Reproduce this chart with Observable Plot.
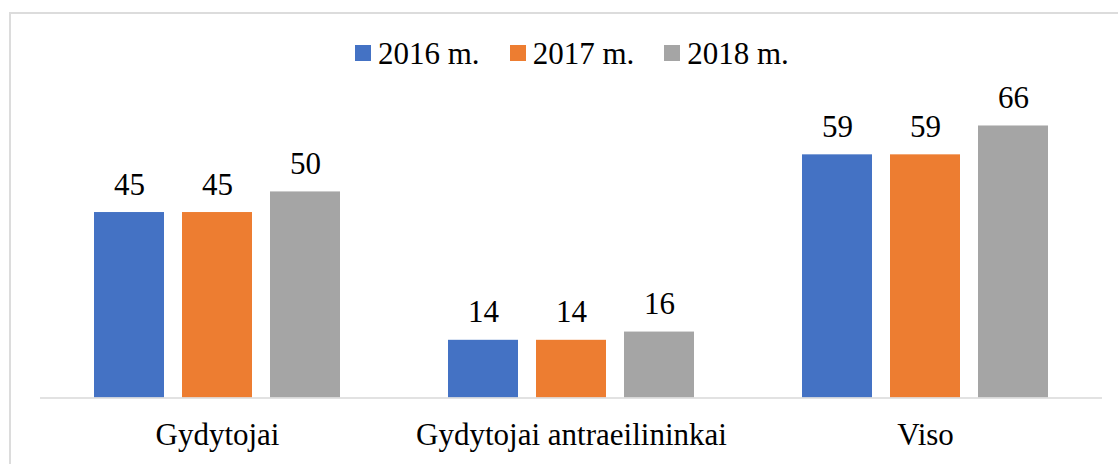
<!DOCTYPE html>
<html>
<head>
<meta charset="utf-8">
<script src="https://cdn.jsdelivr.net/npm/d3@7"></script>
<script src="https://cdn.jsdelivr.net/npm/@observablehq/plot@0.6"></script>
<style>
  html, body { margin: 0; padding: 0; background: #fff; }
  #wrap { position: relative; width: 1118px; height: 464px; overflow: hidden; font-family: "Liberation Serif", "Times New Roman", serif; }
  #frame { position: absolute; left: 9px; top: 12px; width: 1130px; height: 470px; border: 2px solid #dcdcdc; box-sizing: border-box; }
  #legend { position: absolute; left: 355px; top: 37.5px; height: 31px; display: flex; align-items: center; font-size: 31px; line-height: 1; color: #000; white-space: nowrap; }
  .item { display: inline-flex; align-items: center; margin-right: 30px; }
  .sw { width: 16px; height: 16px; margin-right: 7px; display: inline-block; }
  #chart { position: absolute; left: 0; top: 80px; }
  #chart svg, #chart svg text { font-family: "Liberation Serif", "Times New Roman", serif !important; }
</style>
</head>
<body>
<div id="wrap">
  <div id="frame"></div>
  <div id="legend"></div>
  <div id="chart"></div>
</div>
<script>
const categories = ["Gydytojai", "Gydytojai antraeilininkai", "Viso"];
const years = ["2016 m.", "2017 m.", "2018 m."];
const values2016 = [45, 14, 59];
const values2017 = [45, 14, 59];
const values2018 = [50, 16, 66];
const colors = ["#4472C4", "#ED7D31", "#A5A5A5"];

const series = [values2016, values2017, values2018];
const rows = [];
categories.forEach((c, i) => {
  years.forEach((y, j) => {
    rows.push({category: c, year: y, value: series[j][i]});
  });
});

// legend
const legend = document.getElementById("legend");
years.forEach((y, j) => {
  const item = document.createElement("span");
  item.className = "item";
  if (j === years.length - 1) item.style.marginRight = "0";
  const sw = document.createElement("span");
  sw.className = "sw";
  sw.style.background = colors[j];
  const t = document.createElement("span");
  t.textContent = y;
  item.appendChild(sw);
  item.appendChild(t);
  legend.appendChild(item);
});

const chart = Plot.plot({
  width: 1118,
  height: 384,
  marginLeft: 39,
  marginRight: 16,
  marginTop: 29,
  marginBottom: 66.5,
  style: { fontFamily: "'Liberation Serif', 'Times New Roman', serif", fontSize: "31px", color: "#000", background: "transparent", overflow: "visible" },
  fx: { domain: categories, padding: 0, label: null, axis: "bottom", tickSize: 0, tickPadding: 24.5 },
  x: { domain: years, axis: null, paddingInner: 0.208, paddingOuter: 0.5945 },
  y: { domain: [0, 70], axis: null },
  color: { domain: years, range: colors },
  marks: [
    Plot.barY(rows, { fx: "category", x: "year", y: "value", fill: "year" }),
    Plot.ruleY([0], { stroke: "#d9d9d9", strokeWidth: 1.5 }),
    Plot.text(rows, { fx: "category", x: "year", y: "value", text: d => String(d.value), dy: -18, lineAnchor: "bottom", fontSize: 31, fill: "#000" })
  ]
});
document.getElementById("chart").appendChild(chart);
</script>
</body>
</html>
